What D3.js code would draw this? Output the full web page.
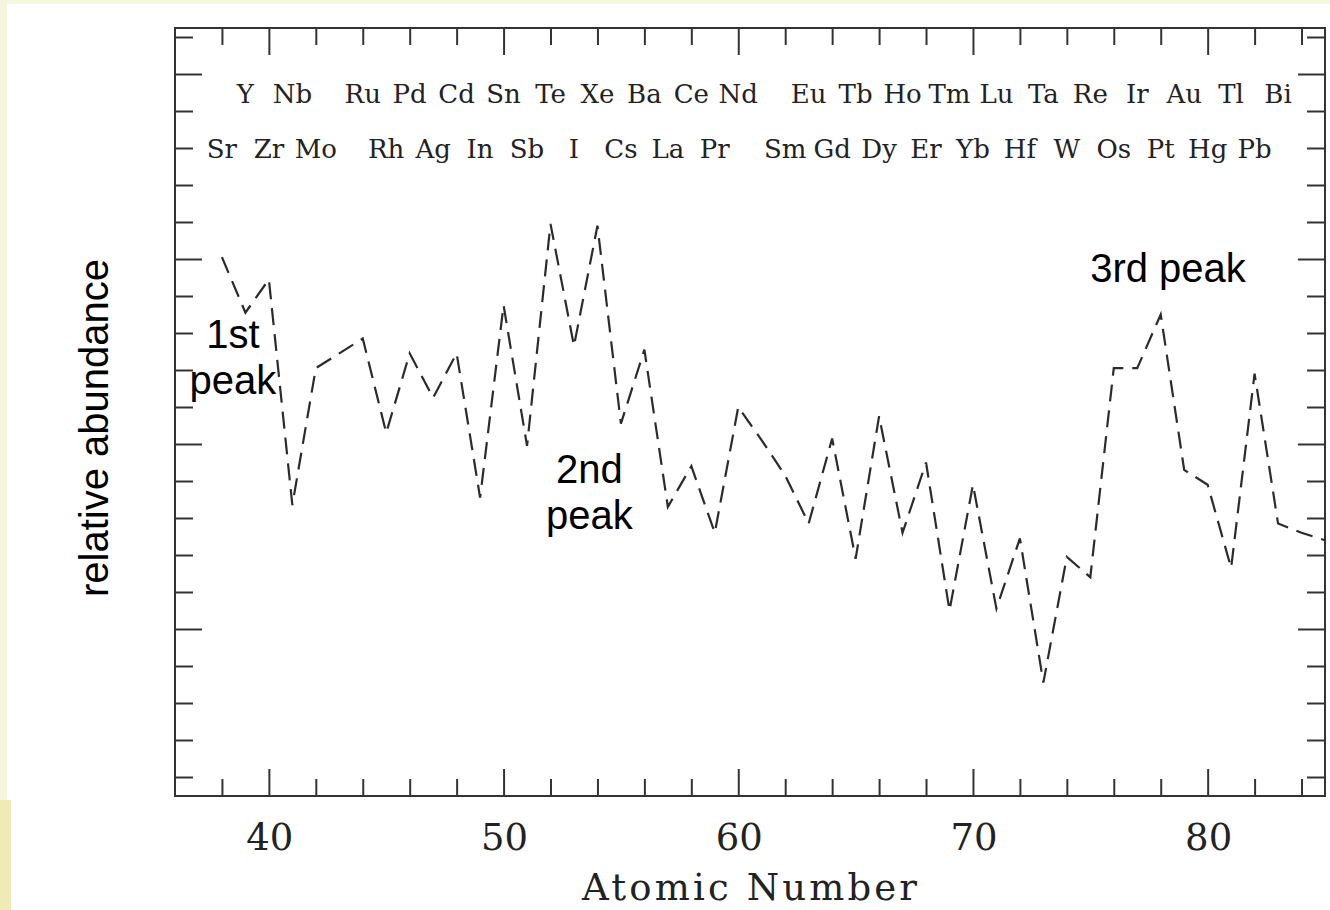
<!DOCTYPE html>
<html>
<head>
<meta charset="utf-8">
<script src="https://cdn.jsdelivr.net/npm/d3@7"></script>
<style>
  html, body { margin: 0; padding: 0; background: #ffffff; }
  svg { display: block; }
</style>
</head>
<body>
<svg id="chart" width="1330" height="910"></svg>
<script>
// r-process abundance pattern versus atomic number (log scale, decades)
const atomicNumbers = [38,39,40,41,42,43,44,45,46,47,48,49,50,51,52,53,54,55,56,57,58,59,60,61,
                       62,63,64,65,66,67,68,69,70,71,72,73,74,75,76,77,78,79,80,81,82,83,84,85];
const logAbundance  = [-0.99,-1.29,-1.11,-2.33,-1.59,-1.51,-1.43,-1.94,-1.51,-1.75,-1.51,-2.29,
                       -1.25,-2.01,-0.81,-1.47,-0.82,-1.89,-1.49,-2.34,-2.12,-2.48,-1.80,-1.98,
                       -2.17,-2.43,-1.97,-2.62,-1.85,-2.48,-2.10,-2.90,-2.22,-2.89,-2.51,-3.29,
                       -2.61,-2.72,-1.59,-1.59,-1.30,-2.14,-2.22,-2.67,-1.62,-2.43,-2.48,-2.52];

// element symbols, staggered into two rows
const upperSymbols = ["Y","Nb","Ru","Pd","Cd","Sn","Te","Xe","Ba","Ce","Nd","Eu","Tb","Ho","Tm","Lu","Ta","Re","Ir","Au","Tl","Bi"];
const upperZ       = [39,41,44,46,48,50,52,54,56,58,60,63,65,67,69,71,73,75,77,79,81,83];
const lowerSymbols = ["Sr","Zr","Mo","Rh","Ag","In","Sb","I","Cs","La","Pr","Sm","Gd","Dy","Er","Yb","Hf","W","Os","Pt","Hg","Pb"];
const lowerZ       = [38,40,42,45,47,49,51,53,55,57,59,62,64,66,68,70,72,74,76,78,80,82];

const xTickLabels = [40,50,60,70,80];

// peak annotations
const peakLabels = [
  {lines: ["1st", "peak"], z: 38.47, v: -1.48},
  {lines: ["2nd", "peak"], z: 53.66, v: -2.21},
  {lines: ["3rd peak"],    z: 78.31, v: -1.125}
];

const svg = d3.select("#chart");
const W = 1330, H = 910;
const plotL = 175, plotR = 1325, plotT = 28, plotB = 796;

// page background bands
svg.append("rect").attr("x", 0).attr("y", 0).attr("width", W).attr("height", 4).attr("fill", "#f7f6e2");
svg.append("rect").attr("x", 0).attr("y", 0).attr("width", 7).attr("height", 800).attr("fill", "#f6f5dd");
svg.append("rect").attr("x", 0).attr("y", 800).attr("width", 11).attr("height", 110).attr("fill", "#eeebb4");

const x = d3.scaleLinear().domain([36, 85]).range([plotL, plotR]);
const y = d3.scaleLinear().domain([-(plotB - 74) / 185, (74 - plotT) / 185]).range([plotB, plotT]);

const minorX = d3.range(38, 85, 2);
const yTicks = d3.range(-19, 2).map(k => k / 5);
const isMajorY = v => Math.abs(v - Math.round(v)) < 1e-6;

const serif = "'DejaVu Serif', serif";
const sans = "'Liberation Sans', Arial, sans-serif";
const ink = "#333";

// axes drawn with d3.axis; ticks point into the plot on all four sides
function styleAxis(g) {
  g.select(".domain").remove();
  g.selectAll("line").attr("stroke", ink).attr("stroke-width", 2);
}
const xMajor = d => d % 10 === 0;

svg.append("g").attr("transform", `translate(0,${plotB})`)
  .call(d3.axisTop(x).tickValues(minorX).tickSize(0).tickFormat(""))
  .call(g => g.selectAll(".tick line").attr("y2", d => xMajor(d) ? -27 : -17))
  .call(styleAxis);
svg.append("g").attr("transform", `translate(0,${plotT})`)
  .call(d3.axisBottom(x).tickValues(minorX).tickSize(0).tickFormat(""))
  .call(g => g.selectAll(".tick line").attr("y2", d => xMajor(d) ? 27 : 17))
  .call(styleAxis);
svg.append("g").attr("transform", `translate(${plotL},0)`)
  .call(d3.axisRight(y).tickValues(yTicks).tickSize(0).tickFormat(""))
  .call(g => g.selectAll(".tick line").attr("x2", d => isMajorY(d) ? 27 : 18))
  .call(styleAxis);
svg.append("g").attr("transform", `translate(${plotR},0)`)
  .call(d3.axisLeft(y).tickValues(yTicks).tickSize(0).tickFormat(""))
  .call(g => g.selectAll(".tick line").attr("x2", d => isMajorY(d) ? -27 : -18))
  .call(styleAxis);

// frame
svg.append("rect")
  .attr("x", plotL).attr("y", plotT)
  .attr("width", plotR - plotL).attr("height", plotB - plotT)
  .attr("fill", "none").attr("stroke", ink).attr("stroke-width", 2);

// x tick labels
svg.append("g").selectAll("text").data(xTickLabels).join("text")
  .attr("x", d => x(d) + 1).attr("y", 850)
  .attr("text-anchor", "middle")
  .attr("font-family", serif).attr("font-size", 37).attr("fill", "#222")
  .text(d => d);

// x axis title
svg.append("text")
  .attr("x", 582).attr("y", 900)
  .attr("textLength", 335).attr("lengthAdjust", "spacing")
  .attr("font-family", serif).attr("font-size", 37).attr("fill", "#222")
  .text("Atomic Number");

// y axis title
svg.append("text")
  .attr("transform", "translate(108,428) rotate(-90)")
  .attr("text-anchor", "middle")
  .attr("font-family", sans).attr("font-size", 40).attr("fill", "#000")
  .text("relative abundance");

// element symbol rows
function symbolRow(symbols, zs, baseline) {
  svg.append("g").selectAll("text").data(symbols).join("text")
    .attr("x", (d, i) => x(zs[i]))
    .attr("y", baseline)
    .attr("text-anchor", "middle")
    .attr("font-family", serif).attr("font-size", 26).attr("fill", "#222")
    .text(d => d);
}
symbolRow(upperSymbols, upperZ, 103);
symbolRow(lowerSymbols, lowerZ, 158);

// abundance curve
const series = atomicNumbers.map((z, i) => ({z, v: logAbundance[i]}));
svg.append("path")
  .datum(series)
  .attr("d", d3.line().x(d => x(d.z)).y(d => y(d.v)))
  .attr("fill", "none")
  .attr("stroke", "#2b2b2b")
  .attr("stroke-width", 2.2)
  .attr("stroke-dasharray", "17,9");

// peak annotations
peakLabels.forEach(p => {
  const t = svg.append("text")
    .attr("x", x(p.z)).attr("y", y(p.v))
    .attr("text-anchor", "middle")
    .attr("font-family", sans).attr("font-size", 40).attr("fill", "#000");
  p.lines.forEach((line, i) => {
    t.append("tspan").attr("x", x(p.z)).attr("dy", i === 0 ? 0 : 46).text(line);
  });
});
</script>
</body>
</html>
